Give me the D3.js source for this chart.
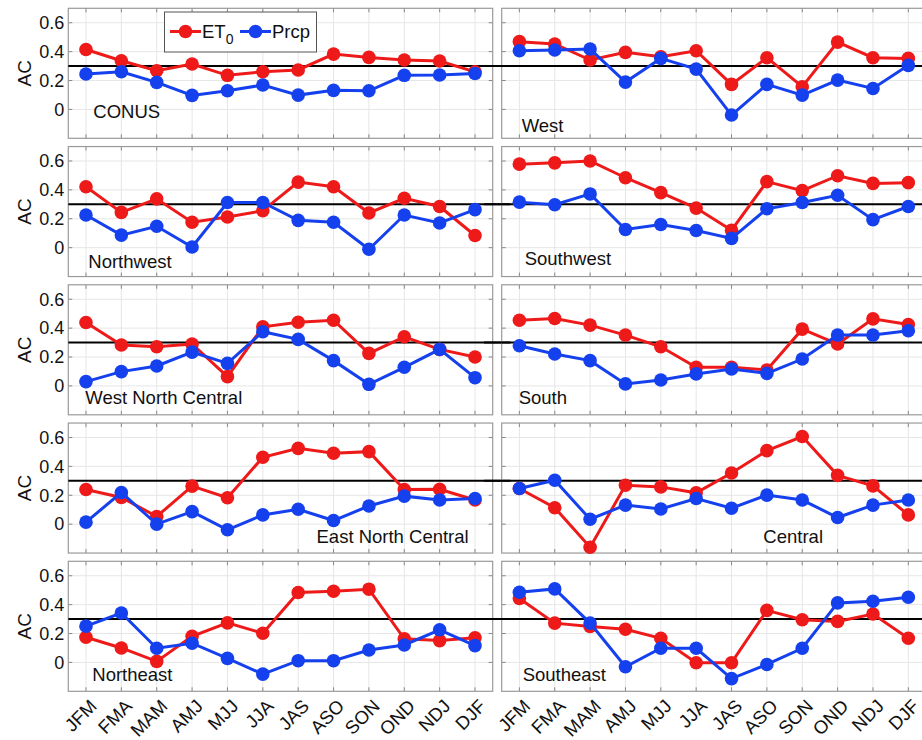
<!DOCTYPE html>
<html><head><meta charset="utf-8">
<script src="https://cdn.jsdelivr.net/npm/d3@7"></script>
<style>body{margin:0;background:#fff;} svg{display:block;font-family:"Liberation Sans",Arial,sans-serif;}</style>
</head><body><svg id="c" width="922" height="740"></svg>
<script>
const seasons = ["JFM","FMA","MAM","AMJ","MJJ","JJA","JAS","ASO","SON","OND","NDJ","DJF"];
const yTicks = [0, 0.2, 0.4, 0.6];
const threshold = 0.3;

const conusET0 = [0.415,0.337,0.268,0.314,0.236,0.261,0.273,0.383,0.36,0.342,0.335,0.26];
const conusPrcp = [0.245,0.261,0.187,0.097,0.129,0.169,0.099,0.132,0.129,0.236,0.238,0.249];
const westET0 = [0.469,0.453,0.342,0.395,0.365,0.406,0.173,0.358,0.157,0.466,0.358,0.353];
const westPrcp = [0.406,0.411,0.418,0.189,0.353,0.279,-0.039,0.173,0.099,0.203,0.145,0.305];
const northwestET0 = [0.422,0.244,0.338,0.176,0.212,0.256,0.454,0.422,0.240,0.342,0.285,0.084];
const northwestPrcp = [0.226,0.087,0.148,0.005,0.313,0.313,0.189,0.176,-0.011,0.226,0.171,0.263];
const southwestET0 = [0.578,0.587,0.600,0.484,0.381,0.274,0.121,0.457,0.395,0.498,0.445,0.450];
const southwestPrcp = [0.315,0.297,0.372,0.126,0.160,0.119,0.064,0.269,0.313,0.363,0.194,0.285];
const wncET0 = [0.439,0.283,0.271,0.290,0.064,0.409,0.441,0.455,0.225,0.340,0.253,0.200];
const wncPrcp = [0.030,0.099,0.138,0.234,0.156,0.375,0.322,0.175,0.011,0.129,0.253,0.057];
const southET0 = [0.455,0.467,0.421,0.352,0.271,0.129,0.129,0.110,0.393,0.290,0.464,0.425];
const southPrcp = [0.278,0.221,0.175,0.014,0.041,0.083,0.117,0.087,0.186,0.352,0.352,0.382];
const encET0 = [0.240,0.185,0.053,0.263,0.183,0.463,0.525,0.491,0.502,0.240,0.242,0.167];
const encPrcp = [0.014,0.219,0.000,0.087,-0.039,0.064,0.103,0.025,0.126,0.194,0.167,0.178];
const centralET0 = [0.247,0.114,-0.160,0.269,0.258,0.217,0.354,0.509,0.607,0.338,0.265,0.064];
const centralPrcp = [0.247,0.304,0.034,0.132,0.105,0.178,0.110,0.201,0.167,0.046,0.132,0.167];
const northeastET0 = [0.174,0.100,0.007,0.181,0.274,0.202,0.484,0.493,0.507,0.163,0.151,0.170];
const northeastPrcp = [0.251,0.342,0.098,0.133,0.028,-0.081,0.012,0.012,0.086,0.121,0.226,0.116];
const southeastET0 = [0.442,0.272,0.249,0.230,0.167,-0.002,-0.002,0.360,0.295,0.284,0.335,0.167];
const southeastPrcp = [0.486,0.509,0.272,-0.030,0.098,0.098,-0.112,-0.014,0.098,0.412,0.423,0.451];

const regionNames = ["CONUS","West","Northwest","Southwest","West North Central","South","East North Central","Central","Northeast","Southeast"];
const et0Series = [conusET0,westET0,northwestET0,southwestET0,wncET0,southET0,encET0,centralET0,northeastET0,southeastET0];
const prcpSeries = [conusPrcp,westPrcp,northwestPrcp,southwestPrcp,wncPrcp,southPrcp,encPrcp,centralPrcp,northeastPrcp,southeastPrcp];

const RED = "#ee1a1a", BLUE = "#1540ee";
const svg = d3.select("#c");
const colX = [[68.3, 492.7], [501.7, 926]];
const top0 = 8.3, rowStep = 138.25, panelH = 130;
const labelPos = [
  ["start", 25, -20], ["start", 20, -6],
  ["start", 20, -9], ["start", 23, -12],
  ["start", 17, -11], ["start", 17, -11],
  ["end", -24, -10], ["end", -103, -10],
  ["start", 24, -10], ["start", 21, -10]
];

regionNames.forEach((name, i) => {
  const col = i % 2, row = Math.floor(i / 2);
  const [x0, x1] = colX[col];
  const yTop = top0 + row * rowStep, yBot = yTop + panelH;
  const x = d3.scaleLinear().domain([0.5, 12.5]).range([x0, x1]);
  const y = d3.scaleLinear().domain([-0.2, 0.7]).range([yBot, yTop]);
  const g = svg.append("g");
  g.selectAll(".gx").data(d3.range(1, 13)).join("line")
    .attr("x1", d => x(d)).attr("x2", d => x(d)).attr("y1", yTop).attr("y2", yBot)
    .attr("stroke", "#e6e6e6").attr("stroke-width", 1);
  g.selectAll(".gy").data(yTicks).join("line")
    .attr("x1", x0).attr("x2", x1).attr("y1", d => y(d)).attr("y2", d => y(d))
    .attr("stroke", "#e6e6e6").attr("stroke-width", 1);
  const tl = 4;
  d3.range(1, 13).forEach(d => {
    g.append("line").attr("x1", x(d)).attr("x2", x(d)).attr("y1", yTop).attr("y2", yTop + tl).attr("stroke", "#888");
    g.append("line").attr("x1", x(d)).attr("x2", x(d)).attr("y1", yBot).attr("y2", yBot - tl).attr("stroke", "#888");
  });
  yTicks.forEach(d => {
    g.append("line").attr("x1", x0).attr("x2", x0 + tl).attr("y1", y(d)).attr("y2", y(d)).attr("stroke", "#888");
    g.append("line").attr("x1", x1).attr("x2", x1 - tl).attr("y1", y(d)).attr("y2", y(d)).attr("stroke", "#888");
  });
  g.append("rect").attr("x", x0).attr("y", yTop).attr("width", x1 - x0).attr("height", panelH)
    .attr("fill", "none").attr("stroke", "#9a9a9a").attr("stroke-width", 1.2);
  const lx0 = col === 0 ? 0.5 : 0.0, lx1 = col === 0 ? 13.0 : 12.5;
  g.append("line").attr("x1", x(lx0)).attr("x2", x(lx1)).attr("y1", y(threshold)).attr("y2", y(threshold))
    .attr("stroke", "#000").attr("stroke-width", 2);
  if (col === 0) {
    const ax = d3.axisLeft(y).tickValues(yTicks).tickSize(0).tickPadding(4)
      .tickFormat(d => d === 0 ? "0" : d3.format(".1f")(d));
    const ag = svg.append("g").attr("transform", `translate(${x0},0)`).call(ax);
    ag.select(".domain").remove();
    ag.selectAll("text").attr("font-size", 18).attr("fill", "#111").attr("font-family", "'Liberation Sans',Arial,sans-serif");
    svg.append("text").attr("transform", `translate(31,${(yTop + yBot) / 2}) rotate(-90)`)
      .attr("text-anchor", "middle").attr("font-size", 19).attr("fill", "#111").text("AC");
  }
  const line = d3.line().x((d, k) => x(k + 1)).y(d => y(d));
  [[et0Series[i], RED], [prcpSeries[i], BLUE]].forEach(([data, c]) => {
    g.append("path").attr("d", line(data)).attr("fill", "none").attr("stroke", c).attr("stroke-width", 3);
    g.selectAll(null).data(data).join("circle")
      .attr("cx", (d, k) => x(k + 1)).attr("cy", d => y(d)).attr("r", 6.8).attr("fill", c);
  });
  const [anc, dx, dy] = labelPos[i];
  g.append("text").attr("x", anc === "start" ? x0 + dx : x1 + dx).attr("y", yBot + dy)
    .attr("text-anchor", anc).attr("font-size", 18.5).attr("fill", "#111").text(name);
  if (row === 4) {
    g.selectAll(".xl").data(seasons).join("text")
      .attr("transform", (d, k) => `translate(${x(k + 1) + 12},${yBot + 16}) rotate(-45)`)
      .attr("text-anchor", "end").attr("font-size", 18.5).attr("fill", "#111").text(d => d);
  }
});

const lg = svg.append("g");
lg.append("rect").attr("x", 164.5).attr("y", 12).attr("width", 152).attr("height", 40)
  .attr("fill", "#fff").attr("stroke", "#555").attr("stroke-width", 1);
const legendItems = [["ET", "0", RED, 170], ["Prcp", null, BLUE, 240]];
legendItems.forEach(([t, sub, c, lx]) => {
  lg.append("line").attr("x1", lx).attr("x2", lx + 31).attr("y1", 31.5).attr("y2", 31.5).attr("stroke", c).attr("stroke-width", 3);
  lg.append("circle").attr("cx", lx + 15.5).attr("cy", 31.5).attr("r", 6.8).attr("fill", c);
  const tx = lg.append("text").attr("x", lx + 32).attr("y", 38).attr("font-size", 18.5).attr("fill", "#111").text(t);
  if (sub) tx.append("tspan").attr("dy", 6).attr("font-size", 14).text(sub);
});
</script></body></html>
